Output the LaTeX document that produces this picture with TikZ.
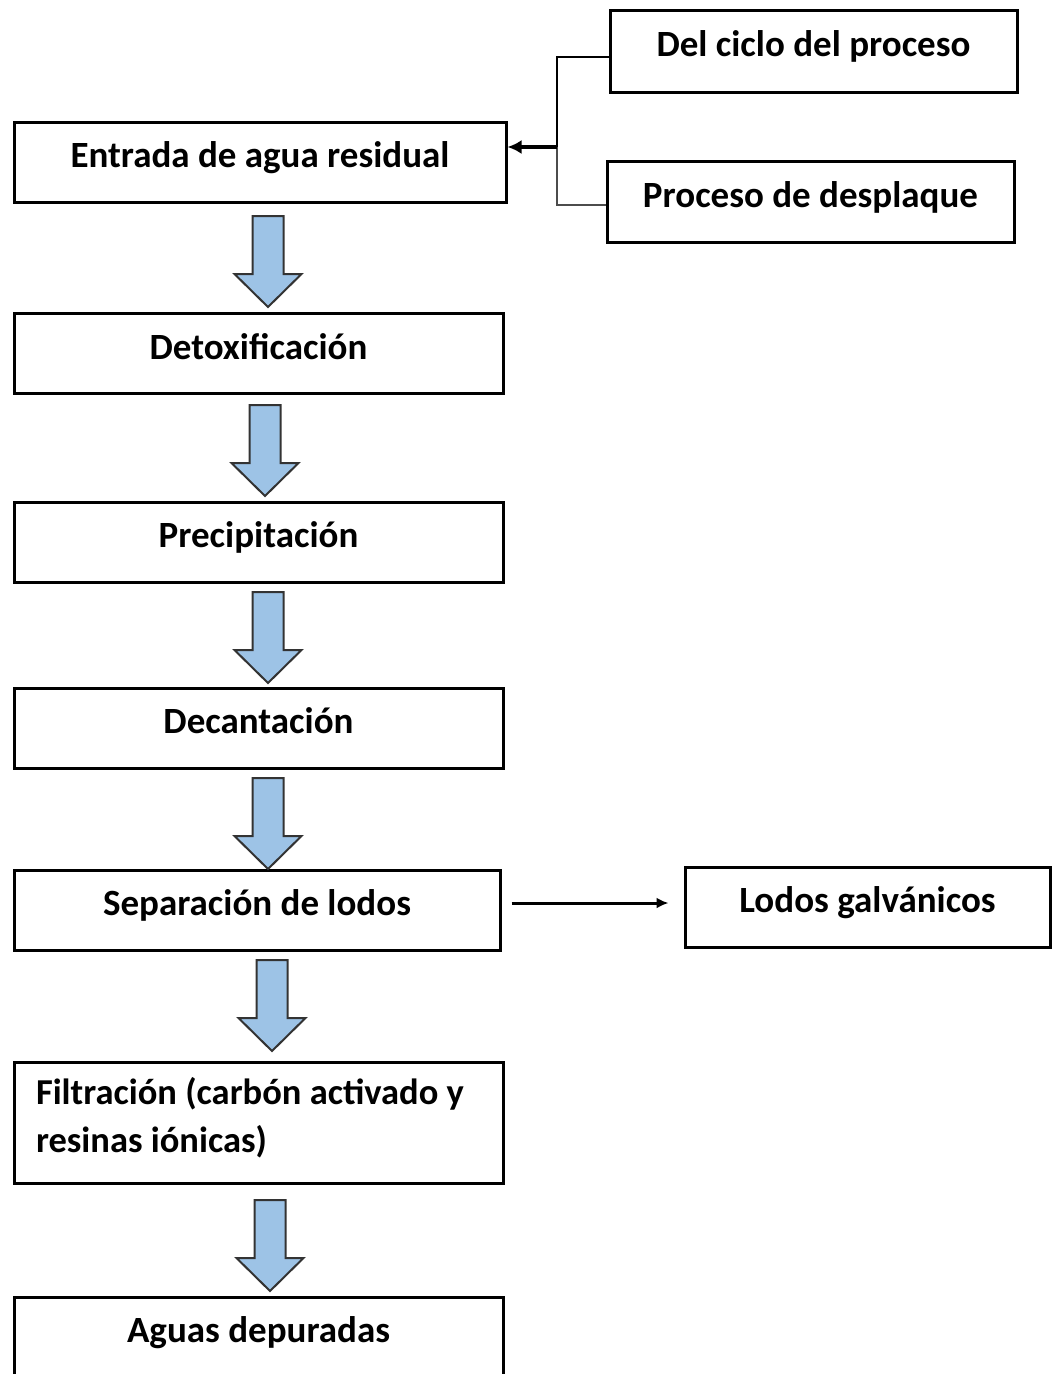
\documentclass[tikz,border=0pt]{standalone}
\usepackage{fontspec}
\setmainfont{Carlito}
\usetikzlibrary{arrows.meta}
\definecolor{arrowblue}{HTML}{9DC3E6}
\newcommand\up[1]{\raisebox{14pt}{#1}}
\tikzset{
  box/.style={draw=black, line width=3pt, minimum height=80pt, inner sep=0pt, font=\fontsize{37}{44}\selectfont\bfseries},
  barrow/.pic={\draw[fill=arrowblue, draw=black!80, line width=2pt, line join=miter]
     (-15.5,0) -- (15.5,0) -- (15.5,58) -- (33.5,58) -- (0,91) -- (-33.5,58) -- (-15.5,58) -- cycle;},
  link/.style={line width=2.6pt},
}
\begin{document}
\begin{tikzpicture}[x=1pt, y=-1pt]
\useasboundingbox (0,0) rectangle (1052,1374);
\clip (0,0) rectangle (1052,1374);
\node[box, minimum width=492pt] (entrada) at (260,162) {\up{Entrada de agua residual}};
\node[box, minimum width=489pt] (detox) at (258.5,353) {\up{Detoxificación}};
\node[box, minimum width=489pt] (precip) at (258.5,542) {\up{Precipitación}};
\node[box, minimum width=489pt] (decant) at (258.5,728) {\up{Decantación}};
\node[box, minimum width=486pt] (separ) at (257,910) {\up{Separación de lodos}};
\node[box, minimum width=489pt, minimum height=121pt] (filtr) at (258.5,1122.5) {\raisebox{5pt}[\height][\depth]{\parbox{445pt}{\raggedright\fontsize{36.5}{48}\selectfont\bfseries Filtración (carbón activado y\\ resinas iónicas)}}};
\node[box, minimum width=489pt] (aguas) at (258.5,1337) {\up{Aguas depuradas}};
\node[box, minimum width=407pt, minimum height=82pt] (ciclo) at (813.5,51) {\up{Del ciclo del proceso}};
\node[box, minimum width=407pt, minimum height=81pt] (despl) at (810.5,201.5) {\up{Proceso de desplaque}};
\node[box, minimum width=365pt] (lodos) at (867.5,907) {\up{Lodos galvánicos}};
\coordinate (j) at (557,147);
\draw[link] ([yshift=-6pt]ciclo.west) -| (j);
\draw[link, draw=black!70] (j) |- ([yshift=-3.5pt]despl.west);
\draw[link, line width=3.4pt, -{Latex[length=14pt,width=14pt]}] (j) -- ([yshift=15pt]entrada.east);
\draw[link, line width=3pt, -{Latex[length=12pt,width=11pt]}] ([xshift=10pt,yshift=7pt]separ.east) -- ([xshift=-15pt,yshift=4pt]lodos.west);
\pic at (268,216) {barrow};
\pic at (265,405) {barrow};
\pic at (268,592) {barrow};
\pic at (268,778) {barrow};
\pic at (272,960) {barrow};
\pic at (270,1200) {barrow};
\end{tikzpicture}
\end{document}
